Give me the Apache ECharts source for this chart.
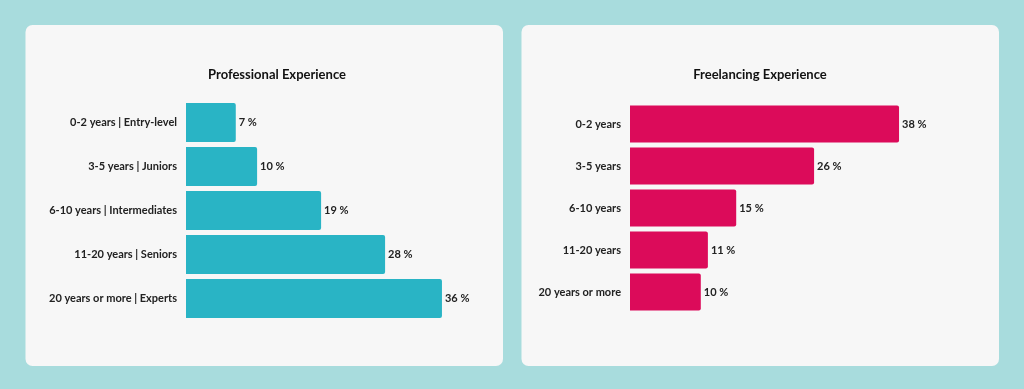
<!DOCTYPE html>
<html>
<head>
<meta charset="utf-8">
<script src="https://cdn.jsdelivr.net/npm/echarts@6/dist/echarts.min.js"></script>
<style>
html,body{margin:0;padding:0;background:#a8dcdd;}
#c{width:1024px;height:389px;}
</style>
</head>
<body>
<div id="c"></div>
<script>
const proCategories = ['0-2 years | Entry-level','3-5 years | Juniors','6-10 years | Intermediates','11-20 years | Seniors','20 years or more | Experts'];
const proValues = [7, 10, 19, 28, 36];
const freeCategories = ['0-2 years','3-5 years','6-10 years','11-20 years','20 years or more'];
const freeValues = [38, 26, 15, 11, 10];
const titles = ['Professional Experience','Freelancing Experience'];

const FONT = 'Lato, sans-serif';
const chart = echarts.init(document.getElementById('c'), null, {renderer:'canvas'});
const labelStyle = {fontFamily: FONT, fontSize: 11, fontWeight: 'bold', color: '#222'};

function xAx(i){
  return {gridIndex:i, type:'value', min:0, max:40, show:false};
}
function yAx(i, cats){
  return {gridIndex:i, type:'category', data:cats, inverse:true,
    axisLine:{show:false}, axisTick:{show:false}, splitLine:{show:false},
    axisLabel:Object.assign({margin:9}, labelStyle)};
}
function ser(i, vals, color, bw){
  return {type:'bar', xAxisIndex:i, yAxisIndex:i, data:vals, barWidth:bw,
    itemStyle:{color:color, borderRadius:[0,2,2,0]},
    label:Object.assign({show:true, position:'right', distance:3, formatter:'{c} %'}, labelStyle),
    silent:true, animation:false};
}

chart.setOption({
  animation:false,
  backgroundColor:'#a8dcdd',
  graphic:[
    {type:'rect', shape:{x:25.5, y:25, width:477.5, height:341, r:7}, style:{fill:'#f7f7f7'}, z:-10},
    {type:'rect', shape:{x:521.5, y:25, width:477.5, height:341, r:7}, style:{fill:'#f7f7f7'}, z:-10}
  ],
  title:[
    {text:titles[0], left:272, top:63, textAlign:'center',
      textStyle:{fontFamily:FONT, fontSize:13, fontWeight:'bold', color:'#111'}},
    {text:titles[1], left:755, top:63, textAlign:'center',
      textStyle:{fontFamily:FONT, fontSize:13, fontWeight:'bold', color:'#111'}}
  ],
  grid:[
    {left:186, top:100.5, width:284.4, height:220},
    {left:630, top:103, width:283.2, height:210}
  ],
  xAxis:[xAx(0), xAx(1)],
  yAxis:[yAx(0, proCategories), yAx(1, freeCategories)],
  series:[
    ser(0, proValues, '#29b4c5', 39),
    ser(1, freeValues, '#dc0b5a', 37)
  ]
});
</script>
</body>
</html>
